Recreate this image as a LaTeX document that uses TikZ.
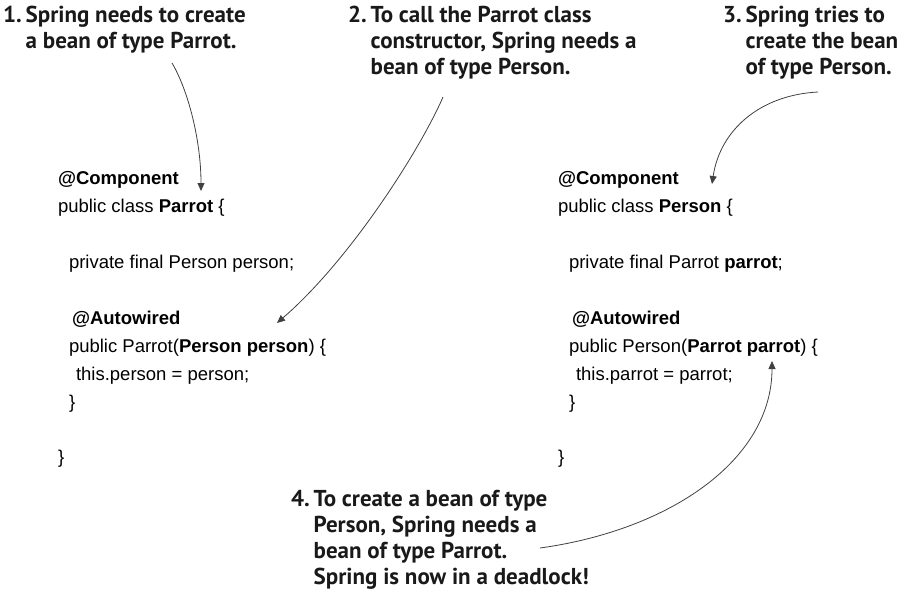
\documentclass[tikz,border=0pt]{standalone}
\usepackage{fontspec}
\newfontfamily\codefont{Liberation Sans}
\newfontfamily\notefont{PT Sans}
\usetikzlibrary{arrows.meta}
\begin{document}
\begin{tikzpicture}[x=1pt,y=-1pt,
  code/.style={font=\codefont\fontsize{18.5}{22}\selectfont, anchor=base west, inner sep=0pt, outer sep=0pt, text=black},
  note/.style={font=\notefont\bfseries\fontsize{23}{26}\selectfont, anchor=base west, inner sep=0pt, outer sep=0pt, text=black!90},
  conn/.style={draw=black!75, line width=0.8pt, -{Triangle[length=8pt,width=7pt]}}]
\useasboundingbox (0,0) rectangle (909,594);

% annotations
\node[note] (n1) at (3,23) {\begin{tabular}[t]{@{}l@{\hspace{4pt}}l@{}}1. & Spring needs to create\\ & a bean of type Parrot.\end{tabular}};
\node[note] (n2) at (348,23) {\begin{tabular}[t]{@{}l@{\hspace{4pt}}l@{}}2. & To call the Parrot class\\ & constructor, Spring needs a\\ & bean of type Person.\end{tabular}};
\node[note] (n3) at (723,23) {\begin{tabular}[t]{@{}l@{\hspace{4pt}}l@{}}3. & Spring tries to\\ & create the bean\\ & of type Person.\end{tabular}};
\node[note] (n4) at (291,506) {\begin{tabular}[t]{@{}l@{\hspace{4pt}}l@{}}4. & To create a bean of type\\ & Person, Spring needs a\\ & bean of type Parrot.\\ & Spring is now in a deadlock!\end{tabular}};

% Parrot class
\node[code] (pa1) at (58,184) {\textbf{@Component}};
\node[code] (pa2) at (58,212) {public class \textbf{Parrot} \{};
\node[code] (pa3) at (69,268) {private final Person person;};
\node[code] (pa4) at (72,324) {\textbf{@Autowired}};
\node[code] (pa5) at (69,352) {public Parrot(\textbf{Person person}) \{};
\node[code] (pa6) at (76,380) {this.person = person;};
\node[code] (pa7) at (69,408) {\}};
\node[code] (pa8) at (58,463) {\}};

% Person class
\node[code] (pe1) at (558,184) {\textbf{@Component}};
\node[code] (pe2) at (558,212) {public class \textbf{Person} \{};
\node[code] (pe3) at (569,268) {private final Parrot \textbf{parrot};};
\node[code] (pe4) at (572,324) {\textbf{@Autowired}};
\node[code] (pe5) at (569,352) {public Person(\textbf{Parrot parrot}) \{};
\node[code] (pe6) at (576,380) {this.parrot = parrot;};
\node[code] (pe7) at (569,408) {\}};
\node[code] (pe8) at (558,463) {\}};

% connector end points
\coordinate (a1s) at (172,63);
\coordinate (a1e) at (201,191);
\coordinate (a2s) at (443,97);
\coordinate (a2e) at (277,323);
\coordinate (a3s) at (818,92);
\coordinate (a3e) at (712,184);
\coordinate (a4s) at (540,548);
\coordinate (a4e) at (772,361);

\draw[conn] (a1s) .. controls (188,90) and (201,140) .. (a1e);
\draw[conn] (a2s) .. controls (420,150) and (350,260) .. (a2e);
\draw[conn] (a3s) .. controls (760,95) and (720,130) .. (a3e);
\draw[conn] (a4s) .. controls (670,530) and (772,460) .. (a4e);
\end{tikzpicture}
\end{document}
